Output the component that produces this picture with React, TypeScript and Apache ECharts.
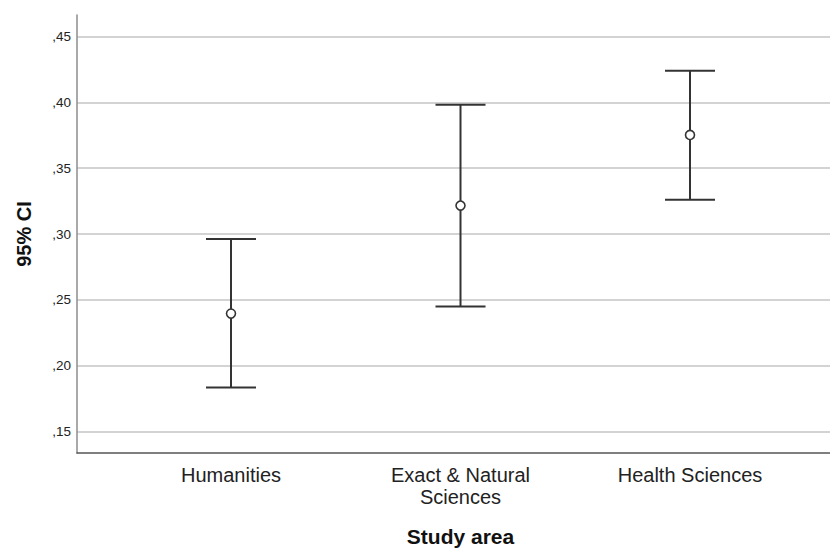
import React, { useEffect, useRef } from "react";
import * as echarts from "echarts";

const categories = ["Humanities", "Exact & Natural\nSciences", "Health Sciences"];
const lowerCI = [0.1833, 0.2448, 0.3261];
const meanValues = [0.2395, 0.3216, 0.3753];
const upperCI = [0.2962, 0.3983, 0.4242];
const yMin = 0.1335;
const yMax = 0.4665;

const FONT = "'Liberation Sans', Arial, sans-serif";

export default function App() {
  const ref = useRef<HTMLDivElement>(null);
  useEffect(() => {
    if (!ref.current) return;
    const chart = echarts.init(ref.current, null, { renderer: "svg" });
    const fmt = (v: number) => {
      const n = Math.round(v * 100);
      return "," + String(n).padStart(2, "0");
    };
    chart.setOption({
      animation: false,
      backgroundColor: "#ffffff",
      grid: [
        { left: 77, right: 0, top: 15, bottom: 95, containLabel: false, outerBoundsMode: "none" },
        { left: 116.25, right: 25.25, top: 15, bottom: 95, containLabel: false, outerBoundsMode: "none" },
      ],
      xAxis: [
        {
          type: "value",
          gridIndex: 0,
          min: 0,
          max: 1,
          axisLine: { show: true, lineStyle: { color: "#555", width: 1.5 } },
          axisTick: { show: false },
          axisLabel: { show: false },
          splitLine: { show: false },
        },
        {
          type: "category",
          gridIndex: 1,
          data: categories,
          axisLine: { show: false },
          axisTick: { show: false },
          splitLine: { show: false },
          axisLabel: {
            color: "#222",
            fontSize: 20,
            fontFamily: FONT,
            margin: 11,
            lineHeight: 22,
            interval: 0,
          },
          name: "Study area",
          nameLocation: "middle",
          nameGap: 73,
          nameTextStyle: {
            color: "#111",
            fontSize: 21,
            fontWeight: "bold",
            fontFamily: FONT,
          },
        },
      ],
      yAxis: [
        {
          type: "value",
          gridIndex: 0,
          min: yMin,
          max: yMax,
          axisLine: { show: true, lineStyle: { color: "#8c8c8c", width: 1.5 } },
          axisTick: { show: false },
          axisLabel: {
            color: "#222",
            fontSize: 13.5,
            fontFamily: FONT,
            margin: 6,
            showMinLabel: false,
            showMaxLabel: false,
            formatter: fmt,
          },
          splitLine: {
            show: true,
            showMinLine: false,
            showMaxLine: false,
            lineStyle: { color: "#c4c4c4", width: 1.5 },
          },
          name: "95% CI",
          nameLocation: "middle",
          nameRotate: 90,
          nameGap: 43,
          nameTextStyle: {
            color: "#111",
            fontSize: 20,
            fontWeight: "bold",
            fontFamily: FONT,
          },
        },
        {
          type: "value",
          gridIndex: 1,
          min: yMin,
          max: yMax,
          show: false,
          splitLine: { show: false },
        },
      ],
      series: [
        {
          type: "custom",
          xAxisIndex: 1,
          yAxisIndex: 1,
          data: categories.map((_, i) => [i, lowerCI[i], upperCI[i]]),
          renderItem: (params: any, api: any) => {
            const x = api.value(0);
            const lo = api.coord([x, api.value(1)]);
            const hi = api.coord([x, api.value(2)]);
            const half = 25;
            const style = { stroke: "#333", lineWidth: 2 };
            return {
              type: "group",
              children: [
                { type: "line", shape: { x1: lo[0], y1: lo[1], x2: hi[0], y2: hi[1] }, style },
                { type: "line", shape: { x1: lo[0] - half, y1: lo[1], x2: lo[0] + half, y2: lo[1] }, style },
                { type: "line", shape: { x1: hi[0] - half, y1: hi[1], x2: hi[0] + half, y2: hi[1] }, style },
              ],
            };
          },
          z: 2,
        },
        {
          type: "scatter",
          xAxisIndex: 1,
          yAxisIndex: 1,
          data: categories.map((_, i) => [i, meanValues[i]]),
          symbol: "circle",
          symbolSize: 9,
          itemStyle: { color: "#ffffff", borderColor: "#333", borderWidth: 1.6, opacity: 1 },
          z: 3,
        },
      ],
    });
    return () => chart.dispose();
  }, []);
  return (
    <div
      ref={ref}
      style={{ position: "absolute", left: 0, top: 0, width: 830, height: 548 }}
    />
  );
}
